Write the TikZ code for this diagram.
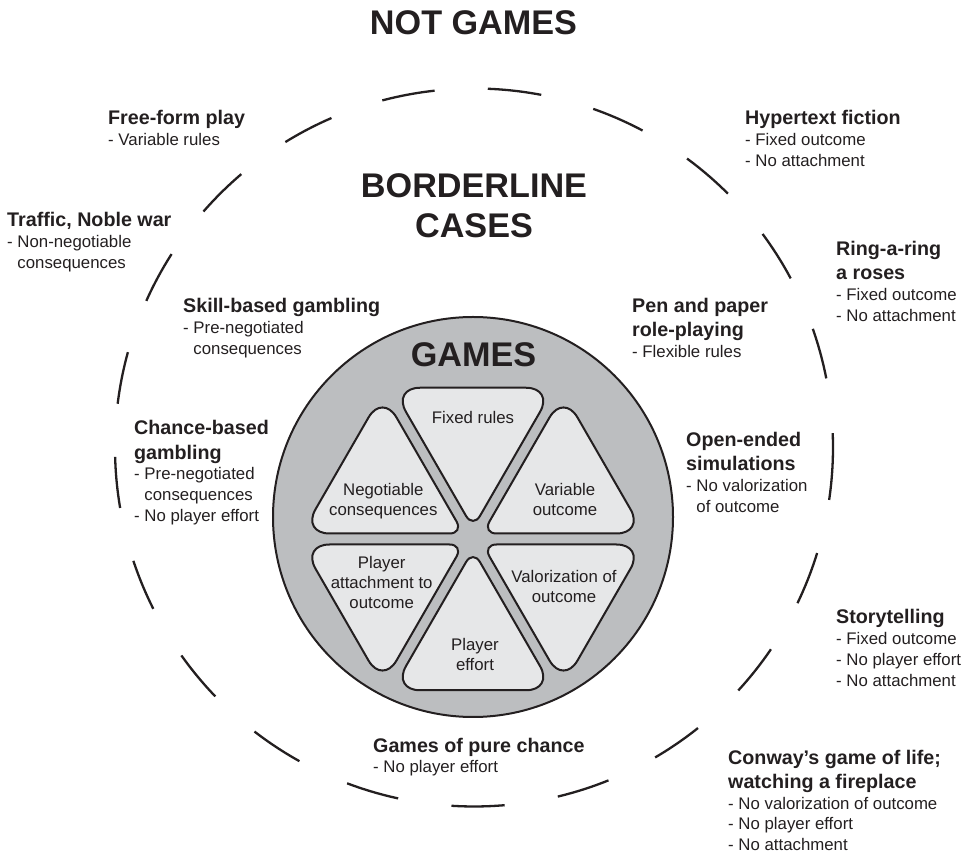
\documentclass[tikz,border=0pt]{standalone}
\usepackage{fontspec}
\setmainfont{Liberation Sans}
\usetikzlibrary{calc}
\definecolor{inkc}{HTML}{231F20}
\definecolor{ringc}{HTML}{BCBEC0}
\definecolor{petalc}{HTML}{E6E7E8}
\newcommand\Ttl[1]{\baselineskip=24.3pt\hbox{\fontsize{19.7}{24.3}\bfseries #1}}
\newcommand\Itm[1]{\baselineskip=20.7pt\hbox{\fontsize{16.8}{20.7}\selectfont #1}}
\newcommand\Ind{\hphantom{- }}
\begin{document}
\begin{tikzpicture}[x=1pt,y=1pt,
  lbl/.style={anchor=base west, inner sep=0pt, text=inkc},
  head/.style={inner sep=0pt, text=inkc, font=\fontsize{34.2}{40}\bfseries},
  ptxt/.style={align=center, inner sep=0pt, text=inkc, font=\fontsize{16.8}{20}\selectfont},
  petal/.style={fill=petalc, draw=inkc, line width=2pt},
  ringdash/.style={draw=inkc, line width=2.3pt}]
\useasboundingbox (0,0) rectangle (973,856);

% outer dashed ring
\coordinate (O) at (474,408.5);
\foreach \s/\e in {96.3/104.8, 79.2/87.8, 62.0/70.6, 45.0/53.6, 28.1/36.5, 11.1/19.3,
  -8.4/2.3, -25.7/-17.1, -42.6/-34.2, -59.7/-51.4, -76.5/-68.0, -93.6/-85.1,
  249.3/257.8, 232.3/240.9, 215.4/223.9, 198.4/206.7, 181.5/189.7, 164.6/173.0,
  147.4/155.9, 130.4/138.9, 113.4/121.7}
  \draw[ringdash] ($(O)+(\s:359)$) arc[start angle=\s, end angle=\e, radius=359];

% games disc
\draw[fill=ringc, draw=inkc, line width=2pt] (473,339) circle[radius=200];

% petals
\coordinate (C) at (473,317);
\foreach \k in {0,...,5}{
  \pgfmathsetmacro\aa{60*\k}
  \pgfmathsetmacro\bb{60*\k+60}
  \pgfmathsetmacro\mm{60*\k+30}
  \coordinate (G) at ($(C)+(\mm:104.5)$);
  \coordinate (V1) at ($(C)+(\aa:181)$);
  \coordinate (V2) at ($(C)+(\bb:181)$);
  \coordinate (P0) at ($(G)!0.8947!(C)$);
  \coordinate (P1) at ($(G)!0.8947!(V1)$);
  \coordinate (P2) at ($(G)!0.8947!(V2)$);
  \draw[petal] (P0) [rounded corners=28pt] -- (P1) -- (P2) [rounded corners=14pt] -- cycle;
}

% petal texts
\node[ptxt] (fixed) at (473,438) {Fixed rules};
\node[ptxt] (negot) at (383.3,354.7) {Negotiable\\consequences};
\node[ptxt] (varout) at (565,356.5) {Variable\\outcome};
\node[ptxt] (attach) at (381.7,273.3) {Player\\attachment to\\outcome};
\node[ptxt] (valor) at (564,270) {Valorization of\\outcome};
\node[ptxt] (effort) at (475,201.1) {Player\\effort};

% headings
\node[head, anchor=base] (notgames) at (473.5,821.7) {NOT GAMES};
\node[head, align=center] (border) at (474,650) {BORDERLINE\\CASES};
\node[head, anchor=base] (games) at (473.5,489.3) {GAMES};

% labels
\node[lbl] (free) at (108,731) {\vtop{\Ttl{Free-form play}\Itm{- Variable rules}}};
\node[lbl] (traffic) at (7,629.3) {\vtop{\Ttl{Traffic, Noble war}\Itm{- Non-negotiable}\Itm{\Ind consequences}}};
\node[lbl] (skill) at (183,543.3) {\vtop{\Ttl{Skill-based gambling}\Itm{- Pre-negotiated}\Itm{\Ind consequences}}};
\node[lbl] (hyper) at (745,731) {\vtop{\Ttl{Hypertext fiction}\Itm{- Fixed outcome}\Itm{- No attachment}}};
\node[lbl] (ring) at (836,600.3) {\vtop{\Ttl{Ring-a-ring}\Ttl{a roses}\Itm{- Fixed outcome}\Itm{- No attachment}}};
\node[lbl] (pen) at (632,543.3) {\vtop{\Ttl{Pen and paper}\Ttl{role-playing}\Itm{- Flexible rules}}};
\node[lbl] (chance) at (134,421) {\vtop{\Ttl{Chance-based}\Ttl{gambling}\Itm{- Pre-negotiated}\Itm{\Ind consequences}\Itm{- No player effort}}};
\node[lbl] (open) at (686,409.3) {\vtop{\Ttl{Open-ended}\Ttl{simulations}\Itm{- No valorization}\Itm{\Ind of outcome}}};
\node[lbl] (story) at (836,232) {\vtop{\Ttl{Storytelling}\Itm{- Fixed outcome}\Itm{- No player effort}\Itm{- No attachment}}};
\node[lbl] (pure) at (373,104) {\vtop{\Ttl{Games of pure chance}\Itm{- No player effort}}};
\node[lbl] (conway) at (728,92) {\vtop{\Ttl{Conway’s game of life;}\Ttl{watching a fireplace}\Itm{- No valorization of outcome}\Itm{- No player effort}\Itm{- No attachment}}};
\end{tikzpicture}
\end{document}
